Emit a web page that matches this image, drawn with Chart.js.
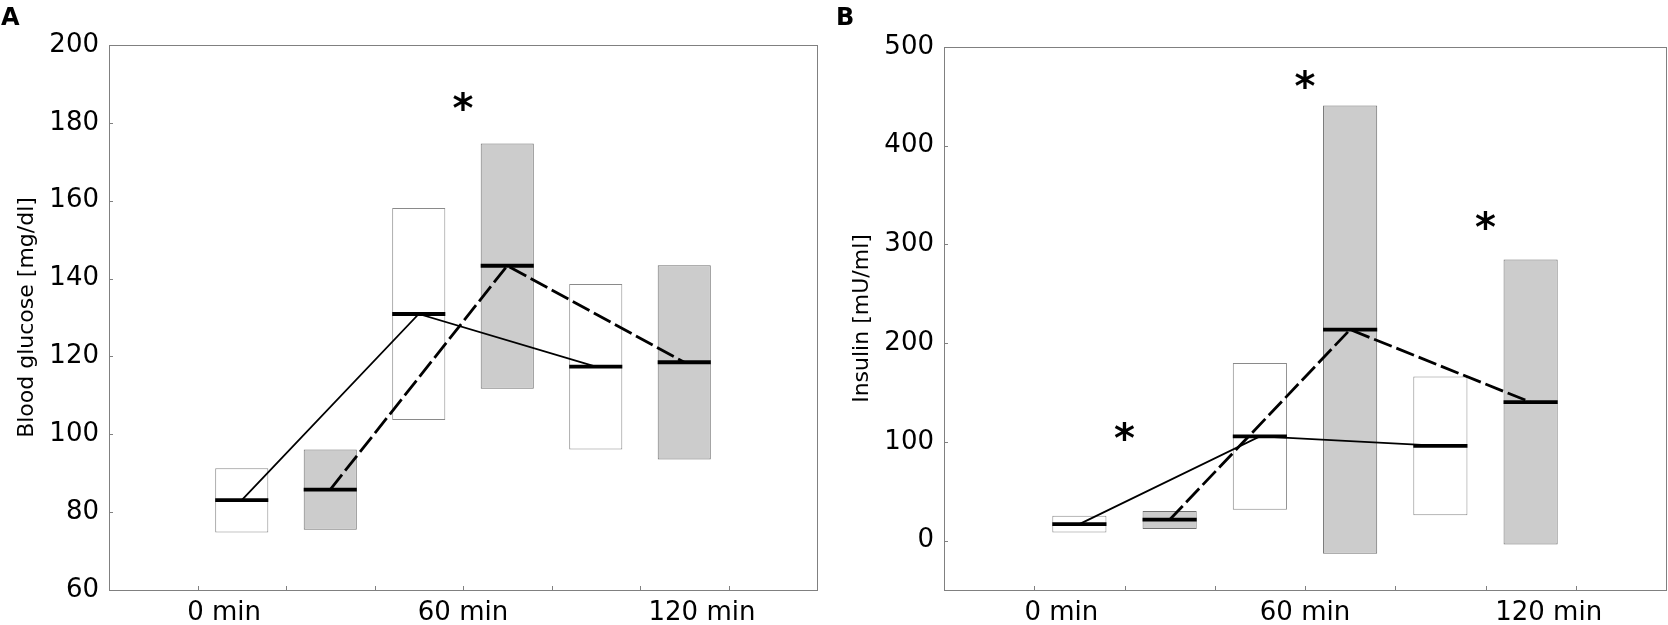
<!DOCTYPE html>
<html>
<head>
<meta charset="utf-8">
<script src="https://cdn.jsdelivr.net/npm/chart.js@4.4.1/dist/chart.umd.min.js"></script>
<style>
  body { margin: 0; background: #fff; }
  #wrapA { position: absolute; left: 0; top: 0; width: 835px; height: 625px; }
  #wrapB { position: absolute; left: 835px; top: 0; width: 833px; height: 625px; }
</style>
</head>
<body>
<div id="wrapA"><canvas id="chartA"></canvas></div>
<div id="wrapB"><canvas id="chartB"></canvas></div>
<script>
// time points, shared by both panels
const timeLabels = ['0 min', '60 min', '120 min'];
const timeLabelPos = [1.3, 4, 6.7];
const tickMarkPos = [1, 2, 3, 4, 5, 6, 7];
const whiteX = [1.5, 3.5, 5.5];
const grayX = [2.5, 4.5, 6.5];

// A - blood glucose
const glucoseWhiteLow = [74.8, 103.7, 96.1];
const glucoseWhiteHigh = [91.3, 158.1, 138.6];
const glucoseWhiteMedian = [83.1, 130.9, 117.4];
const glucoseGrayLow = [75.5, 111.7, 93.5];
const glucoseGrayHigh = [96.1, 174.7, 143.4];
const glucoseGrayMedian = [85.8, 143.3, 118.5];
const glucoseTicks = [60, 80, 100, 120, 140, 160, 180, 200];
const glucoseStarX = [4];
const glucoseStarY = [186];

// B - insulin
const insulinWhiteLow = [8.2, 31.2, 25.6];
const insulinWhiteHigh = [25.2, 179.8, 166.2];
const insulinWhiteMedian = [16.7, 105.6, 96];
const insulinGrayLow = [11.9, -13.3, -4];
const insulinGrayHigh = [30, 440.7, 284.8];
const insulinGrayMedian = [21.2, 213.8, 140.2];
const insulinTicks = [0, 100, 200, 300, 400, 500];
const insulinStarX = [2, 4, 6];
const insulinStarY = [112, 469, 326];

Chart.defaults.font.family = '"DejaVu Sans", sans-serif';
Chart.defaults.color = '#000';

// box frame, inward tick marks, asterisks and panel letter
const framePlugin = {
  id: 'frame',
  afterDraw(chart, args, opts) {
    const {ctx, chartArea: a} = chart;
    const x = chart.scales.x, y = chart.scales.y;
    ctx.save();
    ctx.strokeStyle = '#808080';
    ctx.lineWidth = 1;
    ctx.strokeRect(Math.round(a.left) + 0.5, Math.round(a.top) + 0.5,
      Math.round(a.right - a.left), Math.round(a.bottom - a.top));
    ctx.beginPath();
    tickMarkPos.forEach(v => {
      const px = Math.round(x.getPixelForValue(v)) + 0.5;
      ctx.moveTo(px, a.bottom);
      ctx.lineTo(px, a.bottom - 4);
    });
    y.ticks.forEach(t => {
      const py = Math.round(y.getPixelForValue(t.value)) + 0.5;
      ctx.moveTo(a.left, py);
      ctx.lineTo(a.left + 4, py);
    });
    ctx.stroke();

    ctx.fillStyle = '#000';
    ctx.textAlign = 'center';
    ctx.textBaseline = 'alphabetic';
    ctx.font = 'bold 40px "DejaVu Sans"';
    opts.starX.forEach((sx, i) => {
      ctx.fillText('*', x.getPixelForValue(sx), y.getPixelForValue(opts.starY[i]) + 22);
    });
    ctx.textAlign = 'left';
    ctx.font = 'bold 24px "DejaVu Sans"';
    ctx.fillText(opts.letter, 1, 25);
    ctx.restore();
  }
};

function makeChart(id, cfg) {
  // median bar is as wide as the box (0.6 of a slot)
  const halfBox = c => {
    const s = c.chart.scales.x;
    return s.getPixelForValue(0.3) - s.getPixelForValue(0);
  };
  const boxes = (xs, lo, hi) => xs.map((v, i) => ({x: v, y: [lo[i], hi[i]]}));
  const points = (xs, m) => xs.map((v, i) => ({x: v, y: m[i]}));

  return new Chart(document.getElementById(id), {
    type: 'bar',
    data: {
      datasets: [
        {
          type: 'line',
          data: points(whiteX, cfg.whiteMed),
          borderColor: '#000',
          borderWidth: 1.8,
          tension: 0,
          pointStyle: 'line',
          pointRadius: halfBox,
          pointBorderWidth: 3.8,
          pointBorderColor: '#000',
          order: 1
        },
        {
          type: 'line',
          data: points(grayX, cfg.grayMed),
          borderColor: '#000',
          borderWidth: 2.8,
          borderDash: [19, 5],
          tension: 0,
          pointStyle: 'line',
          pointRadius: halfBox,
          pointBorderWidth: 3.8,
          pointBorderColor: '#000',
          order: 1
        },
        {
          data: boxes(whiteX, cfg.whiteLow, cfg.whiteHigh),
          backgroundColor: '#ffffff',
          borderColor: '#8a8a8a',
          borderWidth: 1,
          borderSkipped: false,
          grouped: false,
          barPercentage: 0.6,
          categoryPercentage: 1,
          order: 2
        },
        {
          data: boxes(grayX, cfg.grayLow, cfg.grayHigh),
          backgroundColor: '#cccccc',
          borderColor: '#707070',
          borderWidth: 1,
          borderSkipped: false,
          grouped: false,
          barPercentage: 0.6,
          categoryPercentage: 1,
          order: 2
        }
      ]
    },
    options: {
      responsive: true,
      maintainAspectRatio: false,
      animation: false,
      events: [],
      layout: { padding: { top: cfg.top, right: cfg.right, left: 0, bottom: 0 } },
      plugins: {
        legend: { display: false },
        tooltip: { enabled: false },
        frame: { letter: cfg.letter, starX: cfg.starX, starY: cfg.starY }
      },
      scales: {
        x: {
          type: 'linear',
          min: 0,
          max: 8,
          offset: false,
          afterBuildTicks: s => { s.ticks = timeLabelPos.map(v => ({value: v})); },
          afterFit: s => { s.height = 35; },
          grid: { display: false, drawTicks: false },
          border: { display: false },
          ticks: {
            callback: (v, i) => timeLabels[i],
            padding: 8,
            font: { size: 26 },
            maxRotation: 0,
            autoSkip: false
          }
        },
        y: {
          min: cfg.min,
          max: cfg.max,
          afterBuildTicks: s => { s.ticks = cfg.ticks.map(v => ({value: v})); },
          afterFit: s => { s.width = 109; },
          grid: { display: false, drawTicks: false },
          border: { display: false },
          ticks: { padding: 10, font: { size: 26 } },
          title: {
            display: true,
            text: cfg.title,
            font: { size: 22 },
            padding: { top: 14, bottom: 0 }
          }
        }
      }
    },
    plugins: [framePlugin]
  });
}

makeChart('chartA', {
  letter: 'A', title: 'Blood glucose [mg/dl]', min: 60, max: 200, ticks: glucoseTicks,
  top: 45, right: 18,
  whiteLow: glucoseWhiteLow, whiteHigh: glucoseWhiteHigh, whiteMed: glucoseWhiteMedian,
  grayLow: glucoseGrayLow, grayHigh: glucoseGrayHigh, grayMed: glucoseGrayMedian,
  starX: glucoseStarX, starY: glucoseStarY
});

makeChart('chartB', {
  letter: 'B', title: 'Insulin [mU/ml]', min: -50, max: 500, ticks: insulinTicks,
  top: 47, right: 2,
  whiteLow: insulinWhiteLow, whiteHigh: insulinWhiteHigh, whiteMed: insulinWhiteMedian,
  grayLow: insulinGrayLow, grayHigh: insulinGrayHigh, grayMed: insulinGrayMedian,
  starX: insulinStarX, starY: insulinStarY
});
</script>
</body>
</html>
